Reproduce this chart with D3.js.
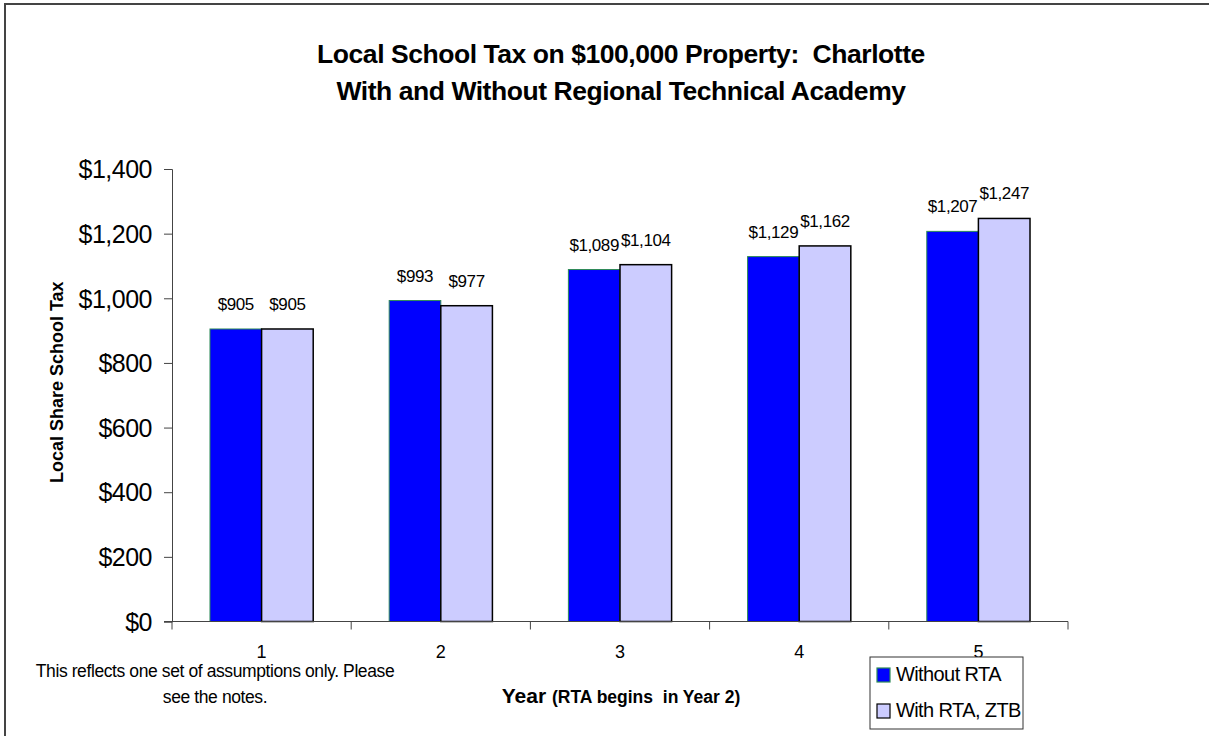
<!DOCTYPE html>
<html>
<head>
<meta charset="utf-8">
<script src="https://cdn.jsdelivr.net/npm/d3@7"></script>
<style>
  html, body { margin: 0; padding: 0; background: #fff; }
  svg { display: block; font-family: "Liberation Sans", Arial, sans-serif; }
  .pre { white-space: pre; }
</style>
</head>
<body>
<svg id="chart" width="1209" height="736"></svg>
<script>
// Local school tax on a $100,000 property, by year
const years = ["1", "2", "3", "4", "5"];
const seriesNames = ["Without RTA", "With RTA, ZTB"];
const withoutRTA = [905, 993, 1089, 1129, 1207];
const withRTA = [905, 977, 1104, 1162, 1247];
const yTicks = [0, 200, 400, 600, 800, 1000, 1200, 1400];
const titleLines = [
  "Local School Tax on $100,000 Property:  Charlotte",
  "With and Without Regional Technical Academy"
];
const noteLines = ["This reflects one set of assumptions only. Please", "see the notes."];

const fills = ["#0000FF", "#CCCCFF"];
const strokes = ["#2E8B57", "#000000"];

const svg = d3.select("#chart");

// chart frame
svg.append("rect")
  .attr("x", 5).attr("y", 4).attr("width", 1220).attr("height", 760)
  .attr("fill", "none").attr("stroke", "#444").attr("stroke-width", 2);

const plot = { left: 172, right: 1068, top: 169, bottom: 621.5 };

const x = d3.scaleBand().domain(years).range([plot.left, plot.right]).padding(0);
const xs = d3.scaleBand().domain(seriesNames).range([0, x.bandwidth()])
  .paddingInner(0).paddingOuter(0.736);
const y = d3.scaleLinear().domain([0, 1400]).range([plot.bottom, plot.top]);

const money = d3.format("$,");

// title
svg.append("g").selectAll("text").data(titleLines).join("text")
  .attr("class", "pre")
  .attr("x", 621).attr("y", (d, i) => 63 + i * 37)
  .attr("text-anchor", "middle")
  .attr("font-weight", "bold").attr("font-size", 26.5).attr("letter-spacing", -0.45)
  .text(d => d);

// y axis
const yAxis = svg.append("g")
  .attr("transform", `translate(${plot.left},0)`)
  .call(d3.axisLeft(y).tickValues(yTicks).tickFormat(money).tickSizeOuter(0).tickSize(8).tickPadding(12));
yAxis.select(".domain").attr("stroke", "#444");
yAxis.selectAll(".tick line").attr("stroke", "#444");
yAxis.selectAll(".tick text")
  .attr("font-family", "Liberation Sans, Arial, sans-serif")
  .attr("font-size", 25).attr("letter-spacing", -0.5).attr("fill", "#000")
  .attr("dy", "0.35em");

// bars
const rows = years.map((yr, i) => ({ year: yr, values: [withoutRTA[i], withRTA[i]] }));
const groups = svg.append("g").selectAll("g").data(rows).join("g")
  .attr("transform", d => `translate(${x(d.year)},0)`);

groups.selectAll("rect")
  .data(d => d.values.map((v, k) => ({ name: seriesNames[k], v, k })))
  .join("rect")
  .attr("x", d => xs(d.name))
  .attr("y", d => y(d.v))
  .attr("width", xs.bandwidth())
  .attr("height", d => y(0) - y(d.v))
  .attr("fill", d => fills[d.k])
  .attr("stroke", d => strokes[d.k])
  .attr("stroke-width", d => d.k === 0 ? 1 : 1.5);

// value labels
groups.selectAll("text.val")
  .data(d => d.values.map((v, k) => ({ name: seriesNames[k], v, k })))
  .join("text")
  .attr("class", "val")
  .attr("x", d => xs(d.name) + xs.bandwidth() / 2)
  .attr("y", d => y(d.v) - 19)
  .attr("text-anchor", "middle")
  .attr("font-size", 17).attr("letter-spacing", -0.4)
  .text(d => money(d.v));

// x axis
const xAxis = svg.append("g")
  .attr("transform", `translate(0,${plot.bottom})`)
  .call(d3.axisBottom(x).tickSize(0).tickPadding(0));
xAxis.select(".domain").remove();
xAxis.selectAll(".tick text")
  .attr("font-family", "Liberation Sans, Arial, sans-serif")
  .attr("font-size", 18).attr("fill", "#000")
  .attr("dy", 0).attr("y", 36.5);
svg.append("line")
  .attr("x1", plot.left - 8).attr("x2", plot.right)
  .attr("y1", plot.bottom).attr("y2", plot.bottom)
  .attr("stroke", "#444");
// tick marks sit on the category boundaries
const bounds = years.map(d => x(d)).concat([plot.right]);
svg.append("g").selectAll("line").data(bounds).join("line")
  .attr("x1", d => d).attr("x2", d => d)
  .attr("y1", plot.bottom).attr("y2", plot.bottom + 8)
  .attr("stroke", "#444");

// y axis title
svg.append("text")
  .attr("transform", `translate(63,${(plot.top + plot.bottom) / 2 - 13}) rotate(-90)`)
  .attr("text-anchor", "middle")
  .attr("font-weight", "bold").attr("font-size", 18)
  .text("Local Share School Tax");

// x axis title
const xt = svg.append("text")
  .attr("class", "pre")
  .attr("x", 621).attr("y", 703)
  .attr("text-anchor", "middle")
  .attr("font-weight", "bold");
xt.append("tspan").attr("font-size", 21).text("Year ");
xt.append("tspan").attr("font-size", 17.5).text("(RTA begins  in Year 2)");

// footnote
svg.append("g").selectAll("text").data(noteLines).join("text")
  .attr("x", 215).attr("y", (d, i) => 677 + i * 26)
  .attr("text-anchor", "middle")
  .attr("font-size", 17.5).attr("letter-spacing", -0.4)
  .text(d => d);

// legend
const legend = svg.append("g").attr("transform", "translate(870,657)");
legend.append("rect")
  .attr("width", 153).attr("height", 72)
  .attr("fill", "#fff").attr("stroke", "#333").attr("stroke-width", 1);
const items = legend.selectAll("g.item").data(seriesNames).join("g")
  .attr("class", "item")
  .attr("transform", (d, i) => `translate(7,${11 + i * 36})`);
items.append("rect")
  .attr("width", 13).attr("height", 14)
  .attr("fill", (d, i) => fills[i])
  .attr("stroke", (d, i) => strokes[i]).attr("stroke-width", 1.2);
items.append("text")
  .attr("x", 19).attr("y", 13)
  .attr("font-size", 20).attr("letter-spacing", -0.6)
  .text(d => d);
</script>
</body>
</html>
